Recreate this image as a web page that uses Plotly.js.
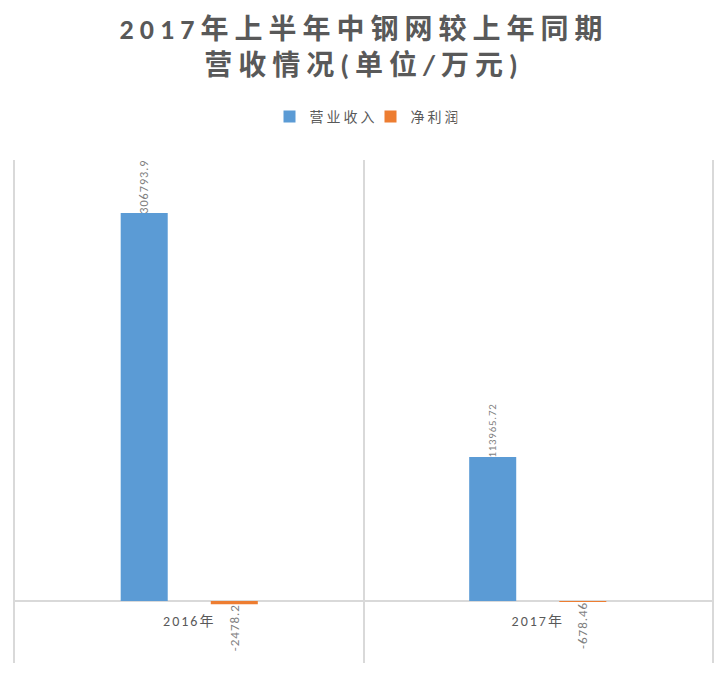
<!DOCTYPE html>
<html><head><meta charset="utf-8">
<script src="https://cdn.plot.ly/plotly-3.0.1.min.js"></script>
<style>
html,body{margin:0;padding:0;background:#fff}#c{width:728px;height:676px}
#c .gtitle{letter-spacing:6px !important}
#c .legendtext{letter-spacing:3px !important}
#c .xtick text{letter-spacing:2px !important}
#c .bartext{letter-spacing:1px !important}
</style>
</head><body><div id="c"></div>
<script>
const categories = ['2016年', '2017年'];
const seriesNames = ['营业收入', '净利润'];
const revenue = [306793.9, 113965.72];
const profit = [-2478.2, -678.46];
const revenueLabels = ['306793.9', '113965.72'];
const profitLabels = ['-2478.2', '-678.46'];
const titleText = '2017年上半年中钢网较上年同期<br>营收情况(单位/万元)';

const FONT = 'Calibri, Carlito, "Noto Sans CJK SC", "Noto Sans", sans-serif';
const yMin = -49000, yMax = 348700;
const zeroFrac = (0 - yMin) / (yMax - yMin);

const traces = [
  {type:'bar', name:seriesNames[0], x:categories, y:revenue, marker:{color:'#5b9bd5'},
   text:revenueLabels, textposition:'outside', textangle:-90, cliponaxis:false,
   textfont:{size:13, color:'#7f7f7f', family:FONT}, hoverinfo:'none'},
  {type:'bar', name:seriesNames[1], x:categories, y:profit, marker:{color:'#ed7d31'},
   text:profitLabels, textposition:'outside', textangle:-90, cliponaxis:false,
   textfont:{size:13, color:'#7f7f7f', family:FONT}, hoverinfo:'none'}
];

const layout = {
  width:728, height:676,
  margin:{l:15, r:16, t:160, b:13, pad:0},
  paper_bgcolor:'#fff', plot_bgcolor:'#fff',
  title:{text:titleText, x:0.5, xanchor:'center', yref:'container', y:1-39/676, yanchor:'middle',
         font:{family:FONT, size:28, color:'#595959', weight:'bold'}},
  showlegend:true,
  legend:{orientation:'h', x:0.5, xanchor:'center', y:1+(160-117)/503, yanchor:'middle',
          font:{family:FONT, size:14, color:'#595959'}, traceorder:'normal', itemwidth:30},
  barmode:'group', bargap:0.483, bargroupgap:0.478,
  xaxis:{type:'category', tickson:'boundaries', showgrid:true, gridcolor:'#d9d9d9', gridwidth:2,
         range:[-0.5,1.5], ticks:'', showline:false, anchor:'free', position:zeroFrac,
         ticklabelstandoff:10,
         tickfont:{family:FONT, size:14, color:'#595959'}, zeroline:false, fixedrange:true},
  yaxis:{range:[yMin, yMax], showgrid:false, showticklabels:false, zeroline:true,
         zerolinecolor:'#d9d9d9', zerolinewidth:2, ticks:'', fixedrange:true,
         showline:true, mirror:true, linecolor:'#d9d9d9', linewidth:2},
  font:{family:FONT}
};
Plotly.newPlot('c', traces, layout, {staticPlot:true, displayModeBar:false});
</script></body></html>
